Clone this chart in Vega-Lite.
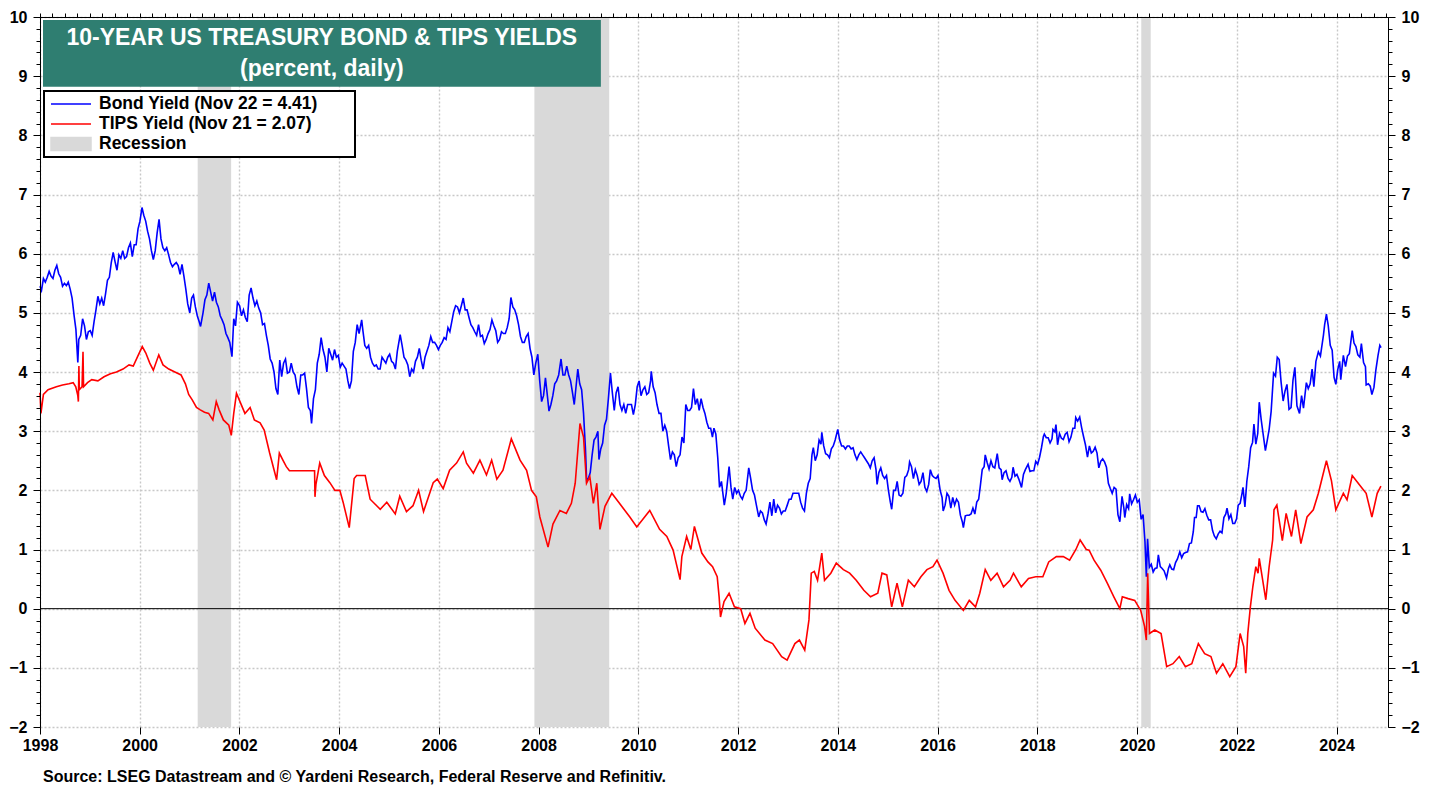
{
"$schema":"https://vega.github.io/schema/vega-lite/v6.json",
"width":1348,"height":710,
"autosize":{"type":"none"},
"padding":{"left":40,"top":17,"right":51,"bottom":62},
"background":"white",
"config":{"view":{"stroke":null},"font":"Liberation Sans"},
"title":{"text":"Source: LSEG Datastream and © Yardeni Research, Federal Reserve and Refinitiv.","orient":"bottom","anchor":"start","frame":"group","fontSize":16,"fontWeight":"bold","font":"Liberation Sans","color":"black","offset":16,"dx":3},
"resolve":{"axis":{"x":"independent","y":"independent"}},
"datasets":{
"rec":[{"start":"2001-03-01","end":"2001-11-01"},{"start":"2007-12-01","end":"2009-06-01"},{"start":"2020-02-01","end":"2020-04-10"}],
"yld":[
{"d":"1998-01-01","s":"B","v":5.45},{"d":"1998-01-12","s":"B","v":5.38},{"d":"1998-01-26","s":"B","v":5.58},{"d":"1998-02-09","s":"B","v":5.52},{"d":"1998-02-23","s":"B","v":5.6},{"d":"1998-03-09","s":"B","v":5.7},{"d":"1998-03-23","s":"B","v":5.62},{"d":"1998-04-06","s":"B","v":5.58},{"d":"1998-04-20","s":"B","v":5.72},{"d":"1998-05-04","s":"B","v":5.8},{"d":"1998-05-18","s":"B","v":5.66},{"d":"1998-06-01","s":"B","v":5.6},{"d":"1998-06-15","s":"B","v":5.45},{"d":"1998-06-29","s":"B","v":5.5},{"d":"1998-07-13","s":"B","v":5.46},{"d":"1998-07-27","s":"B","v":5.52},{"d":"1998-08-10","s":"B","v":5.4},{"d":"1998-08-24","s":"B","v":5.25},{"d":"1998-09-08","s":"B","v":4.95},{"d":"1998-09-21","s":"B","v":4.72},{"d":"1998-10-05","s":"B","v":4.16},{"d":"1998-10-12","s":"B","v":4.55},{"d":"1998-10-26","s":"B","v":4.62},{"d":"1998-11-09","s":"B","v":4.9},{"d":"1998-11-23","s":"B","v":4.78},{"d":"1998-12-07","s":"B","v":4.55},{"d":"1998-12-21","s":"B","v":4.68},
{"d":"1999-01-04","s":"B","v":4.7},{"d":"1999-01-18","s":"B","v":4.62},{"d":"1999-02-01","s":"B","v":4.85},{"d":"1999-02-15","s":"B","v":5.05},{"d":"1999-03-01","s":"B","v":5.28},{"d":"1999-03-15","s":"B","v":5.15},{"d":"1999-03-29","s":"B","v":5.25},{"d":"1999-04-12","s":"B","v":5.12},{"d":"1999-04-26","s":"B","v":5.32},{"d":"1999-05-10","s":"B","v":5.55},{"d":"1999-05-24","s":"B","v":5.6},{"d":"1999-06-07","s":"B","v":5.85},{"d":"1999-06-21","s":"B","v":6.02},{"d":"1999-07-06","s":"B","v":5.85},{"d":"1999-07-19","s":"B","v":5.72},{"d":"1999-08-02","s":"B","v":5.98},{"d":"1999-08-16","s":"B","v":5.92},{"d":"1999-08-30","s":"B","v":6.05},{"d":"1999-09-13","s":"B","v":5.92},{"d":"1999-09-27","s":"B","v":5.95},{"d":"1999-10-11","s":"B","v":6.1},{"d":"1999-10-25","s":"B","v":6.18},{"d":"1999-11-08","s":"B","v":5.95},{"d":"1999-11-22","s":"B","v":6.15},{"d":"1999-12-06","s":"B","v":6.15},{"d":"1999-12-20","s":"B","v":6.42},
{"d":"2000-01-03","s":"B","v":6.55},{"d":"2000-01-18","s":"B","v":6.78},{"d":"2000-01-31","s":"B","v":6.65},{"d":"2000-02-14","s":"B","v":6.55},{"d":"2000-02-28","s":"B","v":6.38},{"d":"2000-03-13","s":"B","v":6.25},{"d":"2000-03-27","s":"B","v":6.05},{"d":"2000-04-10","s":"B","v":5.9},{"d":"2000-04-24","s":"B","v":6.05},{"d":"2000-05-08","s":"B","v":6.35},{"d":"2000-05-22","s":"B","v":6.58},{"d":"2000-06-05","s":"B","v":6.25},{"d":"2000-06-19","s":"B","v":6.1},{"d":"2000-07-03","s":"B","v":6.05},{"d":"2000-07-17","s":"B","v":6.1},{"d":"2000-07-31","s":"B","v":5.98},{"d":"2000-08-14","s":"B","v":5.85},{"d":"2000-08-28","s":"B","v":5.78},{"d":"2000-09-11","s":"B","v":5.82},{"d":"2000-09-25","s":"B","v":5.85},{"d":"2000-10-09","s":"B","v":5.8},{"d":"2000-10-23","s":"B","v":5.65},{"d":"2000-11-06","s":"B","v":5.82},{"d":"2000-11-20","s":"B","v":5.62},{"d":"2000-12-04","s":"B","v":5.4},{"d":"2000-12-18","s":"B","v":5.15},
{"d":"2001-01-02","s":"B","v":5.0},{"d":"2001-01-16","s":"B","v":5.25},{"d":"2001-01-29","s":"B","v":5.3},{"d":"2001-02-12","s":"B","v":5.1},{"d":"2001-02-26","s":"B","v":4.95},{"d":"2001-03-12","s":"B","v":4.85},{"d":"2001-03-22","s":"B","v":4.77},{"d":"2001-04-09","s":"B","v":5.0},{"d":"2001-04-23","s":"B","v":5.22},{"d":"2001-05-07","s":"B","v":5.3},{"d":"2001-05-21","s":"B","v":5.5},{"d":"2001-06-04","s":"B","v":5.35},{"d":"2001-06-18","s":"B","v":5.2},{"d":"2001-07-02","s":"B","v":5.35},{"d":"2001-07-16","s":"B","v":5.18},{"d":"2001-07-30","s":"B","v":5.1},{"d":"2001-08-13","s":"B","v":4.95},{"d":"2001-08-27","s":"B","v":4.88},{"d":"2001-09-10","s":"B","v":4.8},{"d":"2001-09-24","s":"B","v":4.65},{"d":"2001-10-08","s":"B","v":4.58},{"d":"2001-10-22","s":"B","v":4.5},{"d":"2001-11-07","s":"B","v":4.26},{"d":"2001-11-20","s":"B","v":4.9},{"d":"2001-12-03","s":"B","v":4.78},{"d":"2001-12-17","s":"B","v":5.18},
{"d":"2002-01-02","s":"B","v":5.12},{"d":"2002-01-16","s":"B","v":4.95},{"d":"2002-01-30","s":"B","v":5.05},{"d":"2002-02-13","s":"B","v":4.92},{"d":"2002-02-27","s":"B","v":4.85},{"d":"2002-03-13","s":"B","v":5.3},{"d":"2002-03-27","s":"B","v":5.42},{"d":"2002-04-10","s":"B","v":5.25},{"d":"2002-04-24","s":"B","v":5.12},{"d":"2002-05-08","s":"B","v":5.2},{"d":"2002-05-22","s":"B","v":5.08},{"d":"2002-06-05","s":"B","v":5.0},{"d":"2002-06-19","s":"B","v":4.8},{"d":"2002-07-03","s":"B","v":4.82},{"d":"2002-07-17","s":"B","v":4.62},{"d":"2002-07-31","s":"B","v":4.45},{"d":"2002-08-14","s":"B","v":4.22},{"d":"2002-08-28","s":"B","v":4.15},{"d":"2002-09-11","s":"B","v":4.0},{"d":"2002-09-25","s":"B","v":3.72},{"d":"2002-10-09","s":"B","v":3.62},{"d":"2002-10-23","s":"B","v":4.2},{"d":"2002-11-06","s":"B","v":3.92},{"d":"2002-11-20","s":"B","v":4.15},{"d":"2002-12-04","s":"B","v":4.22},{"d":"2002-12-18","s":"B","v":3.98},
{"d":"2003-01-02","s":"B","v":4.0},{"d":"2003-01-15","s":"B","v":4.15},{"d":"2003-01-29","s":"B","v":4.0},{"d":"2003-02-12","s":"B","v":3.95},{"d":"2003-02-26","s":"B","v":3.75},{"d":"2003-03-12","s":"B","v":3.62},{"d":"2003-03-26","s":"B","v":3.95},{"d":"2003-04-09","s":"B","v":3.95},{"d":"2003-04-23","s":"B","v":3.98},{"d":"2003-05-07","s":"B","v":3.72},{"d":"2003-05-21","s":"B","v":3.4},{"d":"2003-06-04","s":"B","v":3.35},{"d":"2003-06-13","s":"B","v":3.13},{"d":"2003-06-27","s":"B","v":3.55},{"d":"2003-07-11","s":"B","v":3.7},{"d":"2003-07-25","s":"B","v":4.15},{"d":"2003-08-08","s":"B","v":4.3},{"d":"2003-08-22","s":"B","v":4.58},{"d":"2003-09-05","s":"B","v":4.38},{"d":"2003-09-19","s":"B","v":4.25},{"d":"2003-10-03","s":"B","v":4.0},{"d":"2003-10-17","s":"B","v":4.4},{"d":"2003-10-31","s":"B","v":4.3},{"d":"2003-11-14","s":"B","v":4.2},{"d":"2003-11-28","s":"B","v":4.38},{"d":"2003-12-12","s":"B","v":4.25},{"d":"2003-12-26","s":"B","v":4.28},
{"d":"2004-01-09","s":"B","v":4.08},{"d":"2004-01-23","s":"B","v":4.15},{"d":"2004-02-06","s":"B","v":4.1},{"d":"2004-02-20","s":"B","v":4.05},{"d":"2004-03-05","s":"B","v":3.85},{"d":"2004-03-17","s":"B","v":3.72},{"d":"2004-03-31","s":"B","v":3.85},{"d":"2004-04-14","s":"B","v":4.35},{"d":"2004-04-28","s":"B","v":4.5},{"d":"2004-05-12","s":"B","v":4.8},{"d":"2004-05-26","s":"B","v":4.65},{"d":"2004-06-14","s":"B","v":4.88},{"d":"2004-06-23","s":"B","v":4.7},{"d":"2004-07-07","s":"B","v":4.45},{"d":"2004-07-21","s":"B","v":4.4},{"d":"2004-08-04","s":"B","v":4.45},{"d":"2004-08-18","s":"B","v":4.25},{"d":"2004-09-01","s":"B","v":4.15},{"d":"2004-09-15","s":"B","v":4.1},{"d":"2004-09-29","s":"B","v":4.12},{"d":"2004-10-13","s":"B","v":4.05},{"d":"2004-10-27","s":"B","v":4.05},{"d":"2004-11-10","s":"B","v":4.25},{"d":"2004-11-24","s":"B","v":4.2},{"d":"2004-12-08","s":"B","v":4.15},{"d":"2004-12-22","s":"B","v":4.25},
{"d":"2005-01-05","s":"B","v":4.3},{"d":"2005-01-19","s":"B","v":4.18},{"d":"2005-02-02","s":"B","v":4.15},{"d":"2005-02-16","s":"B","v":4.05},{"d":"2005-03-02","s":"B","v":4.35},{"d":"2005-03-23","s":"B","v":4.63},{"d":"2005-04-06","s":"B","v":4.45},{"d":"2005-04-20","s":"B","v":4.25},{"d":"2005-05-04","s":"B","v":4.2},{"d":"2005-05-18","s":"B","v":4.12},{"d":"2005-06-01","s":"B","v":3.92},{"d":"2005-06-15","s":"B","v":4.05},{"d":"2005-06-29","s":"B","v":4.0},{"d":"2005-07-13","s":"B","v":4.18},{"d":"2005-07-27","s":"B","v":4.25},{"d":"2005-08-10","s":"B","v":4.4},{"d":"2005-08-24","s":"B","v":4.2},{"d":"2005-09-07","s":"B","v":4.05},{"d":"2005-09-21","s":"B","v":4.25},{"d":"2005-10-05","s":"B","v":4.35},{"d":"2005-10-19","s":"B","v":4.45},{"d":"2005-11-02","s":"B","v":4.6},{"d":"2005-11-16","s":"B","v":4.5},{"d":"2005-11-30","s":"B","v":4.5},{"d":"2005-12-14","s":"B","v":4.45},{"d":"2005-12-28","s":"B","v":4.38},
{"d":"2006-01-11","s":"B","v":4.45},{"d":"2006-01-25","s":"B","v":4.5},{"d":"2006-02-08","s":"B","v":4.58},{"d":"2006-02-22","s":"B","v":4.55},{"d":"2006-03-08","s":"B","v":4.75},{"d":"2006-03-22","s":"B","v":4.68},{"d":"2006-04-05","s":"B","v":4.85},{"d":"2006-04-19","s":"B","v":5.02},{"d":"2006-05-03","s":"B","v":5.12},{"d":"2006-05-17","s":"B","v":5.1},{"d":"2006-05-31","s":"B","v":5.0},{"d":"2006-06-14","s":"B","v":5.12},{"d":"2006-06-28","s":"B","v":5.25},{"d":"2006-07-12","s":"B","v":5.05},{"d":"2006-07-26","s":"B","v":5.05},{"d":"2006-08-09","s":"B","v":4.92},{"d":"2006-08-23","s":"B","v":4.8},{"d":"2006-09-06","s":"B","v":4.75},{"d":"2006-09-20","s":"B","v":4.68},{"d":"2006-10-04","s":"B","v":4.62},{"d":"2006-10-18","s":"B","v":4.8},{"d":"2006-11-01","s":"B","v":4.6},{"d":"2006-11-15","s":"B","v":4.62},{"d":"2006-11-29","s":"B","v":4.48},{"d":"2006-12-13","s":"B","v":4.55},{"d":"2006-12-27","s":"B","v":4.65},
{"d":"2007-01-10","s":"B","v":4.72},{"d":"2007-01-24","s":"B","v":4.88},{"d":"2007-02-07","s":"B","v":4.78},{"d":"2007-02-21","s":"B","v":4.7},{"d":"2007-03-07","s":"B","v":4.5},{"d":"2007-03-21","s":"B","v":4.55},{"d":"2007-04-04","s":"B","v":4.68},{"d":"2007-04-18","s":"B","v":4.65},{"d":"2007-05-02","s":"B","v":4.65},{"d":"2007-05-16","s":"B","v":4.75},{"d":"2007-05-30","s":"B","v":4.9},{"d":"2007-06-12","s":"B","v":5.26},{"d":"2007-06-26","s":"B","v":5.1},{"d":"2007-07-10","s":"B","v":5.05},{"d":"2007-07-24","s":"B","v":4.95},{"d":"2007-08-07","s":"B","v":4.8},{"d":"2007-08-21","s":"B","v":4.6},{"d":"2007-09-04","s":"B","v":4.5},{"d":"2007-09-18","s":"B","v":4.5},{"d":"2007-10-02","s":"B","v":4.6},{"d":"2007-10-16","s":"B","v":4.65},{"d":"2007-10-30","s":"B","v":4.4},{"d":"2007-11-13","s":"B","v":4.25},{"d":"2007-11-27","s":"B","v":3.95},{"d":"2007-12-11","s":"B","v":4.15},{"d":"2007-12-26","s":"B","v":4.3},
{"d":"2008-01-09","s":"B","v":3.85},{"d":"2008-01-23","s":"B","v":3.5},{"d":"2008-02-06","s":"B","v":3.6},{"d":"2008-02-20","s":"B","v":3.9},{"d":"2008-03-05","s":"B","v":3.6},{"d":"2008-03-17","s":"B","v":3.34},{"d":"2008-03-31","s":"B","v":3.45},{"d":"2008-04-14","s":"B","v":3.6},{"d":"2008-04-28","s":"B","v":3.8},{"d":"2008-05-12","s":"B","v":3.85},{"d":"2008-05-27","s":"B","v":3.95},{"d":"2008-06-13","s":"B","v":4.22},{"d":"2008-06-27","s":"B","v":3.95},{"d":"2008-07-11","s":"B","v":3.95},{"d":"2008-07-25","s":"B","v":4.1},{"d":"2008-08-08","s":"B","v":3.95},{"d":"2008-08-22","s":"B","v":3.85},{"d":"2008-09-05","s":"B","v":3.65},{"d":"2008-09-18","s":"B","v":3.45},{"d":"2008-10-01","s":"B","v":3.75},{"d":"2008-10-14","s":"B","v":4.05},{"d":"2008-10-28","s":"B","v":3.8},{"d":"2008-11-11","s":"B","v":3.7},{"d":"2008-11-25","s":"B","v":3.3},{"d":"2008-12-09","s":"B","v":2.7},{"d":"2008-12-18","s":"B","v":2.15},{"d":"2008-12-30","s":"B","v":2.2},
{"d":"2009-01-13","s":"B","v":2.3},{"d":"2009-01-27","s":"B","v":2.6},{"d":"2009-02-10","s":"B","v":2.85},{"d":"2009-02-24","s":"B","v":2.9},{"d":"2009-03-10","s":"B","v":3.0},{"d":"2009-03-18","s":"B","v":2.52},{"d":"2009-03-31","s":"B","v":2.7},{"d":"2009-04-14","s":"B","v":2.8},{"d":"2009-04-28","s":"B","v":3.1},{"d":"2009-05-12","s":"B","v":3.2},{"d":"2009-05-26","s":"B","v":3.55},{"d":"2009-06-10","s":"B","v":3.98},{"d":"2009-06-24","s":"B","v":3.65},{"d":"2009-07-08","s":"B","v":3.35},{"d":"2009-07-22","s":"B","v":3.65},{"d":"2009-08-05","s":"B","v":3.75},{"d":"2009-08-19","s":"B","v":3.45},{"d":"2009-09-02","s":"B","v":3.35},{"d":"2009-09-16","s":"B","v":3.45},{"d":"2009-09-30","s":"B","v":3.3},{"d":"2009-10-14","s":"B","v":3.45},{"d":"2009-10-28","s":"B","v":3.45},{"d":"2009-11-11","s":"B","v":3.45},{"d":"2009-11-25","s":"B","v":3.28},{"d":"2009-12-09","s":"B","v":3.45},{"d":"2009-12-23","s":"B","v":3.75},
{"d":"2010-01-06","s":"B","v":3.85},{"d":"2010-01-20","s":"B","v":3.6},{"d":"2010-02-03","s":"B","v":3.7},{"d":"2010-02-17","s":"B","v":3.75},{"d":"2010-03-03","s":"B","v":3.62},{"d":"2010-03-17","s":"B","v":3.65},{"d":"2010-03-31","s":"B","v":3.85},{"d":"2010-04-05","s":"B","v":4.01},{"d":"2010-04-19","s":"B","v":3.75},{"d":"2010-05-03","s":"B","v":3.65},{"d":"2010-05-17","s":"B","v":3.45},{"d":"2010-06-01","s":"B","v":3.3},{"d":"2010-06-15","s":"B","v":3.3},{"d":"2010-06-29","s":"B","v":3.0},{"d":"2010-07-13","s":"B","v":3.1},{"d":"2010-07-27","s":"B","v":3.0},{"d":"2010-08-10","s":"B","v":2.75},{"d":"2010-08-24","s":"B","v":2.52},{"d":"2010-09-07","s":"B","v":2.65},{"d":"2010-09-21","s":"B","v":2.6},{"d":"2010-10-05","s":"B","v":2.4},{"d":"2010-10-19","s":"B","v":2.55},{"d":"2010-11-02","s":"B","v":2.6},{"d":"2010-11-16","s":"B","v":2.9},{"d":"2010-11-30","s":"B","v":2.8},{"d":"2010-12-14","s":"B","v":3.45},{"d":"2010-12-28","s":"B","v":3.35},
{"d":"2011-01-11","s":"B","v":3.35},{"d":"2011-01-25","s":"B","v":3.4},{"d":"2011-02-08","s":"B","v":3.72},{"d":"2011-02-22","s":"B","v":3.45},{"d":"2011-03-08","s":"B","v":3.55},{"d":"2011-03-22","s":"B","v":3.35},{"d":"2011-04-05","s":"B","v":3.55},{"d":"2011-04-19","s":"B","v":3.4},{"d":"2011-05-03","s":"B","v":3.3},{"d":"2011-05-17","s":"B","v":3.15},{"d":"2011-05-31","s":"B","v":3.05},{"d":"2011-06-14","s":"B","v":3.05},{"d":"2011-06-27","s":"B","v":2.9},{"d":"2011-07-08","s":"B","v":3.05},{"d":"2011-07-22","s":"B","v":2.95},{"d":"2011-08-05","s":"B","v":2.55},{"d":"2011-08-18","s":"B","v":2.05},{"d":"2011-09-01","s":"B","v":2.15},{"d":"2011-09-22","s":"B","v":1.75},{"d":"2011-10-06","s":"B","v":1.95},{"d":"2011-10-27","s":"B","v":2.4},{"d":"2011-11-10","s":"B","v":2.05},{"d":"2011-11-23","s":"B","v":1.85},{"d":"2011-12-07","s":"B","v":2.05},{"d":"2011-12-21","s":"B","v":1.95},
{"d":"2012-01-04","s":"B","v":2.0},{"d":"2012-01-18","s":"B","v":1.9},{"d":"2012-02-01","s":"B","v":1.85},{"d":"2012-02-15","s":"B","v":1.95},{"d":"2012-02-29","s":"B","v":2.0},{"d":"2012-03-19","s":"B","v":2.38},{"d":"2012-04-02","s":"B","v":2.2},{"d":"2012-04-16","s":"B","v":2.0},{"d":"2012-04-30","s":"B","v":1.92},{"d":"2012-05-14","s":"B","v":1.75},{"d":"2012-05-31","s":"B","v":1.55},{"d":"2012-06-13","s":"B","v":1.65},{"d":"2012-06-27","s":"B","v":1.62},{"d":"2012-07-11","s":"B","v":1.5},{"d":"2012-07-24","s":"B","v":1.43},{"d":"2012-08-07","s":"B","v":1.6},{"d":"2012-08-21","s":"B","v":1.8},{"d":"2012-09-04","s":"B","v":1.57},{"d":"2012-09-18","s":"B","v":1.85},{"d":"2012-10-02","s":"B","v":1.62},{"d":"2012-10-16","s":"B","v":1.75},{"d":"2012-10-30","s":"B","v":1.7},{"d":"2012-11-13","s":"B","v":1.6},{"d":"2012-11-27","s":"B","v":1.65},{"d":"2012-12-11","s":"B","v":1.65},{"d":"2012-12-26","s":"B","v":1.75},
{"d":"2013-01-09","s":"B","v":1.85},{"d":"2013-01-23","s":"B","v":1.85},{"d":"2013-02-06","s":"B","v":1.95},{"d":"2013-02-20","s":"B","v":1.95},{"d":"2013-03-06","s":"B","v":1.95},{"d":"2013-03-20","s":"B","v":1.95},{"d":"2013-04-03","s":"B","v":1.8},{"d":"2013-04-17","s":"B","v":1.7},{"d":"2013-05-01","s":"B","v":1.65},{"d":"2013-05-15","s":"B","v":1.95},{"d":"2013-05-29","s":"B","v":2.12},{"d":"2013-06-12","s":"B","v":2.2},{"d":"2013-06-25","s":"B","v":2.6},{"d":"2013-07-05","s":"B","v":2.72},{"d":"2013-07-19","s":"B","v":2.5},{"d":"2013-08-02","s":"B","v":2.6},{"d":"2013-08-16","s":"B","v":2.85},{"d":"2013-08-30","s":"B","v":2.78},{"d":"2013-09-05","s":"B","v":2.98},{"d":"2013-09-19","s":"B","v":2.75},{"d":"2013-10-03","s":"B","v":2.62},{"d":"2013-10-17","s":"B","v":2.6},{"d":"2013-10-31","s":"B","v":2.55},{"d":"2013-11-14","s":"B","v":2.7},{"d":"2013-11-28","s":"B","v":2.75},{"d":"2013-12-12","s":"B","v":2.85},{"d":"2013-12-31","s":"B","v":3.03},
{"d":"2014-01-14","s":"B","v":2.85},{"d":"2014-01-28","s":"B","v":2.75},{"d":"2014-02-11","s":"B","v":2.75},{"d":"2014-02-25","s":"B","v":2.7},{"d":"2014-03-11","s":"B","v":2.75},{"d":"2014-03-25","s":"B","v":2.75},{"d":"2014-04-08","s":"B","v":2.7},{"d":"2014-04-22","s":"B","v":2.72},{"d":"2014-05-06","s":"B","v":2.6},{"d":"2014-05-20","s":"B","v":2.52},{"d":"2014-06-03","s":"B","v":2.6},{"d":"2014-06-17","s":"B","v":2.65},{"d":"2014-07-01","s":"B","v":2.6},{"d":"2014-07-15","s":"B","v":2.55},{"d":"2014-07-29","s":"B","v":2.5},{"d":"2014-08-12","s":"B","v":2.45},{"d":"2014-08-26","s":"B","v":2.38},{"d":"2014-09-09","s":"B","v":2.5},{"d":"2014-09-23","s":"B","v":2.55},{"d":"2014-10-07","s":"B","v":2.35},{"d":"2014-10-15","s":"B","v":2.1},{"d":"2014-10-28","s":"B","v":2.3},{"d":"2014-11-11","s":"B","v":2.38},{"d":"2014-11-25","s":"B","v":2.25},{"d":"2014-12-09","s":"B","v":2.2},{"d":"2014-12-23","s":"B","v":2.25},
{"d":"2015-01-06","s":"B","v":2.0},{"d":"2015-01-20","s":"B","v":1.8},{"d":"2015-01-30","s":"B","v":1.68},{"d":"2015-02-13","s":"B","v":2.0},{"d":"2015-02-27","s":"B","v":2.0},{"d":"2015-03-11","s":"B","v":2.15},{"d":"2015-03-25","s":"B","v":1.92},{"d":"2015-04-08","s":"B","v":1.9},{"d":"2015-04-22","s":"B","v":1.95},{"d":"2015-05-06","s":"B","v":2.22},{"d":"2015-05-20","s":"B","v":2.25},{"d":"2015-06-03","s":"B","v":2.35},{"d":"2015-06-10","s":"B","v":2.48},{"d":"2015-06-24","s":"B","v":2.4},{"d":"2015-07-08","s":"B","v":2.2},{"d":"2015-07-22","s":"B","v":2.35},{"d":"2015-08-05","s":"B","v":2.25},{"d":"2015-08-19","s":"B","v":2.1},{"d":"2015-09-02","s":"B","v":2.15},{"d":"2015-09-16","s":"B","v":2.3},{"d":"2015-09-30","s":"B","v":2.05},{"d":"2015-10-14","s":"B","v":1.98},{"d":"2015-10-28","s":"B","v":2.1},{"d":"2015-11-09","s":"B","v":2.35},{"d":"2015-11-23","s":"B","v":2.25},{"d":"2015-12-07","s":"B","v":2.22},{"d":"2015-12-21","s":"B","v":2.2},
{"d":"2016-01-04","s":"B","v":2.25},{"d":"2016-01-20","s":"B","v":2.0},{"d":"2016-02-03","s":"B","v":1.88},{"d":"2016-02-11","s":"B","v":1.65},{"d":"2016-02-25","s":"B","v":1.75},{"d":"2016-03-10","s":"B","v":1.95},{"d":"2016-03-24","s":"B","v":1.9},{"d":"2016-04-07","s":"B","v":1.7},{"d":"2016-04-21","s":"B","v":1.88},{"d":"2016-05-05","s":"B","v":1.75},{"d":"2016-05-19","s":"B","v":1.85},{"d":"2016-06-02","s":"B","v":1.8},{"d":"2016-06-16","s":"B","v":1.58},{"d":"2016-06-30","s":"B","v":1.47},{"d":"2016-07-08","s":"B","v":1.37},{"d":"2016-07-22","s":"B","v":1.57},{"d":"2016-08-05","s":"B","v":1.58},{"d":"2016-08-19","s":"B","v":1.58},{"d":"2016-09-02","s":"B","v":1.6},{"d":"2016-09-16","s":"B","v":1.7},{"d":"2016-09-30","s":"B","v":1.6},{"d":"2016-10-14","s":"B","v":1.8},{"d":"2016-10-28","s":"B","v":1.85},{"d":"2016-11-09","s":"B","v":2.07},{"d":"2016-11-23","s":"B","v":2.35},{"d":"2016-12-07","s":"B","v":2.4},{"d":"2016-12-15","s":"B","v":2.6},{"d":"2016-12-29","s":"B","v":2.47},
{"d":"2017-01-12","s":"B","v":2.36},{"d":"2017-01-26","s":"B","v":2.5},{"d":"2017-02-09","s":"B","v":2.4},{"d":"2017-02-23","s":"B","v":2.38},{"d":"2017-03-13","s":"B","v":2.62},{"d":"2017-03-27","s":"B","v":2.38},{"d":"2017-04-10","s":"B","v":2.35},{"d":"2017-04-18","s":"B","v":2.18},{"d":"2017-05-02","s":"B","v":2.3},{"d":"2017-05-16","s":"B","v":2.33},{"d":"2017-05-31","s":"B","v":2.2},{"d":"2017-06-14","s":"B","v":2.15},{"d":"2017-06-28","s":"B","v":2.22},{"d":"2017-07-07","s":"B","v":2.39},{"d":"2017-07-21","s":"B","v":2.24},{"d":"2017-08-04","s":"B","v":2.27},{"d":"2017-08-18","s":"B","v":2.19},{"d":"2017-09-07","s":"B","v":2.05},{"d":"2017-09-21","s":"B","v":2.27},{"d":"2017-10-05","s":"B","v":2.35},{"d":"2017-10-25","s":"B","v":2.44},{"d":"2017-11-08","s":"B","v":2.32},{"d":"2017-11-22","s":"B","v":2.33},{"d":"2017-12-06","s":"B","v":2.33},{"d":"2017-12-20","s":"B","v":2.49},
{"d":"2018-01-03","s":"B","v":2.44},{"d":"2018-01-17","s":"B","v":2.56},{"d":"2018-01-31","s":"B","v":2.72},{"d":"2018-02-14","s":"B","v":2.91},{"d":"2018-02-21","s":"B","v":2.95},{"d":"2018-03-07","s":"B","v":2.89},{"d":"2018-03-21","s":"B","v":2.89},{"d":"2018-04-04","s":"B","v":2.8},{"d":"2018-04-18","s":"B","v":2.87},{"d":"2018-04-25","s":"B","v":3.03},{"d":"2018-05-09","s":"B","v":2.99},{"d":"2018-05-17","s":"B","v":3.11},{"d":"2018-05-29","s":"B","v":2.77},{"d":"2018-06-12","s":"B","v":2.96},{"d":"2018-06-26","s":"B","v":2.88},{"d":"2018-07-10","s":"B","v":2.86},{"d":"2018-07-24","s":"B","v":2.95},{"d":"2018-08-07","s":"B","v":2.98},{"d":"2018-08-21","s":"B","v":2.82},{"d":"2018-09-04","s":"B","v":2.9},{"d":"2018-09-18","s":"B","v":3.05},{"d":"2018-10-02","s":"B","v":3.05},{"d":"2018-10-09","s":"B","v":3.23},{"d":"2018-10-23","s":"B","v":3.17},{"d":"2018-11-07","s":"B","v":3.24},{"d":"2018-11-21","s":"B","v":3.06},{"d":"2018-12-05","s":"B","v":2.91},{"d":"2018-12-19","s":"B","v":2.77},
{"d":"2019-01-03","s":"B","v":2.56},{"d":"2019-01-17","s":"B","v":2.75},{"d":"2019-01-31","s":"B","v":2.63},{"d":"2019-02-14","s":"B","v":2.66},{"d":"2019-02-28","s":"B","v":2.73},{"d":"2019-03-14","s":"B","v":2.63},{"d":"2019-03-27","s":"B","v":2.38},{"d":"2019-04-10","s":"B","v":2.49},{"d":"2019-04-24","s":"B","v":2.53},{"d":"2019-05-08","s":"B","v":2.48},{"d":"2019-05-22","s":"B","v":2.39},{"d":"2019-06-05","s":"B","v":2.12},{"d":"2019-06-19","s":"B","v":2.03},{"d":"2019-07-03","s":"B","v":1.95},{"d":"2019-07-17","s":"B","v":2.05},{"d":"2019-07-31","s":"B","v":2.02},{"d":"2019-08-14","s":"B","v":1.59},{"d":"2019-08-28","s":"B","v":1.47},{"d":"2019-09-13","s":"B","v":1.9},{"d":"2019-09-27","s":"B","v":1.69},{"d":"2019-10-03","s":"B","v":1.54},{"d":"2019-10-17","s":"B","v":1.76},{"d":"2019-10-31","s":"B","v":1.69},{"d":"2019-11-08","s":"B","v":1.94},{"d":"2019-11-22","s":"B","v":1.77},{"d":"2019-12-06","s":"B","v":1.84},{"d":"2019-12-20","s":"B","v":1.92},
{"d":"2020-01-03","s":"B","v":1.8},{"d":"2020-01-17","s":"B","v":1.84},{"d":"2020-01-31","s":"B","v":1.51},{"d":"2020-02-14","s":"B","v":1.59},{"d":"2020-02-28","s":"B","v":1.13},{"d":"2020-03-09","s":"B","v":0.54},{"d":"2020-03-18","s":"B","v":1.18},{"d":"2020-03-31","s":"B","v":0.7},{"d":"2020-04-14","s":"B","v":0.75},{"d":"2020-04-28","s":"B","v":0.62},{"d":"2020-05-12","s":"B","v":0.68},{"d":"2020-05-26","s":"B","v":0.69},{"d":"2020-06-05","s":"B","v":0.91},{"d":"2020-06-19","s":"B","v":0.71},{"d":"2020-07-03","s":"B","v":0.68},{"d":"2020-07-17","s":"B","v":0.64},{"d":"2020-08-04","s":"B","v":0.52},{"d":"2020-08-18","s":"B","v":0.68},{"d":"2020-08-28","s":"B","v":0.74},{"d":"2020-09-11","s":"B","v":0.67},{"d":"2020-09-25","s":"B","v":0.66},{"d":"2020-10-09","s":"B","v":0.78},{"d":"2020-10-23","s":"B","v":0.84},{"d":"2020-11-09","s":"B","v":0.96},{"d":"2020-11-23","s":"B","v":0.86},{"d":"2020-12-07","s":"B","v":0.93},{"d":"2020-12-21","s":"B","v":0.95},
{"d":"2021-01-05","s":"B","v":0.96},{"d":"2021-01-19","s":"B","v":1.1},{"d":"2021-02-02","s":"B","v":1.11},{"d":"2021-02-16","s":"B","v":1.3},{"d":"2021-02-25","s":"B","v":1.54},{"d":"2021-03-09","s":"B","v":1.54},{"d":"2021-03-19","s":"B","v":1.74},{"d":"2021-03-31","s":"B","v":1.74},{"d":"2021-04-14","s":"B","v":1.64},{"d":"2021-04-28","s":"B","v":1.63},{"d":"2021-05-12","s":"B","v":1.69},{"d":"2021-05-26","s":"B","v":1.58},{"d":"2021-06-09","s":"B","v":1.5},{"d":"2021-06-23","s":"B","v":1.5},{"d":"2021-07-07","s":"B","v":1.32},{"d":"2021-07-20","s":"B","v":1.23},{"d":"2021-08-03","s":"B","v":1.18},{"d":"2021-08-17","s":"B","v":1.26},{"d":"2021-08-31","s":"B","v":1.31},{"d":"2021-09-14","s":"B","v":1.28},{"d":"2021-09-28","s":"B","v":1.54},{"d":"2021-10-12","s":"B","v":1.6},{"d":"2021-10-21","s":"B","v":1.7},{"d":"2021-11-04","s":"B","v":1.52},{"d":"2021-11-18","s":"B","v":1.59},{"d":"2021-12-02","s":"B","v":1.44},{"d":"2021-12-16","s":"B","v":1.44},{"d":"2021-12-30","s":"B","v":1.52},
{"d":"2022-01-11","s":"B","v":1.75},{"d":"2022-01-25","s":"B","v":1.78},{"d":"2022-02-08","s":"B","v":1.95},{"d":"2022-02-15","s":"B","v":2.05},{"d":"2022-03-01","s":"B","v":1.72},{"d":"2022-03-15","s":"B","v":2.15},{"d":"2022-03-29","s":"B","v":2.4},{"d":"2022-04-12","s":"B","v":2.72},{"d":"2022-04-26","s":"B","v":2.81},{"d":"2022-05-06","s":"B","v":3.12},{"d":"2022-05-20","s":"B","v":2.78},{"d":"2022-06-03","s":"B","v":2.96},{"d":"2022-06-14","s":"B","v":3.49},{"d":"2022-06-28","s":"B","v":3.2},{"d":"2022-07-12","s":"B","v":2.96},{"d":"2022-07-29","s":"B","v":2.67},{"d":"2022-08-12","s":"B","v":2.85},{"d":"2022-08-26","s":"B","v":3.04},{"d":"2022-09-09","s":"B","v":3.33},{"d":"2022-09-27","s":"B","v":3.98},{"d":"2022-10-11","s":"B","v":3.93},{"d":"2022-10-24","s":"B","v":4.25},{"d":"2022-11-07","s":"B","v":4.21},{"d":"2022-11-21","s":"B","v":3.83},{"d":"2022-12-06","s":"B","v":3.51},{"d":"2022-12-20","s":"B","v":3.68},
{"d":"2023-01-03","s":"B","v":3.79},{"d":"2023-01-18","s":"B","v":3.37},{"d":"2023-02-02","s":"B","v":3.4},{"d":"2023-02-16","s":"B","v":3.86},{"d":"2023-03-02","s":"B","v":4.08},{"d":"2023-03-17","s":"B","v":3.43},{"d":"2023-04-05","s":"B","v":3.3},{"d":"2023-04-20","s":"B","v":3.6},{"d":"2023-05-04","s":"B","v":3.39},{"d":"2023-05-25","s":"B","v":3.82},{"d":"2023-06-08","s":"B","v":3.72},{"d":"2023-06-22","s":"B","v":3.8},{"d":"2023-07-06","s":"B","v":4.05},{"d":"2023-07-19","s":"B","v":3.75},{"d":"2023-08-03","s":"B","v":4.18},{"d":"2023-08-21","s":"B","v":4.34},{"d":"2023-09-05","s":"B","v":4.27},{"d":"2023-09-27","s":"B","v":4.62},{"d":"2023-10-06","s":"B","v":4.8},{"d":"2023-10-19","s":"B","v":4.98},{"d":"2023-11-01","s":"B","v":4.79},{"d":"2023-11-16","s":"B","v":4.45},{"d":"2023-11-30","s":"B","v":4.37},{"d":"2023-12-14","s":"B","v":3.91},{"d":"2023-12-27","s":"B","v":3.79},
{"d":"2024-01-10","s":"B","v":4.04},{"d":"2024-01-24","s":"B","v":4.18},{"d":"2024-02-01","s":"B","v":3.87},{"d":"2024-02-20","s":"B","v":4.28},{"d":"2024-03-07","s":"B","v":4.09},{"d":"2024-03-21","s":"B","v":4.27},{"d":"2024-04-04","s":"B","v":4.31},{"d":"2024-04-25","s":"B","v":4.7},{"d":"2024-05-08","s":"B","v":4.49},{"d":"2024-05-22","s":"B","v":4.43},{"d":"2024-06-05","s":"B","v":4.29},{"d":"2024-06-20","s":"B","v":4.25},{"d":"2024-07-01","s":"B","v":4.48},{"d":"2024-07-17","s":"B","v":4.16},{"d":"2024-07-31","s":"B","v":4.09},{"d":"2024-08-05","s":"B","v":3.78},{"d":"2024-08-21","s":"B","v":3.8},{"d":"2024-09-04","s":"B","v":3.76},{"d":"2024-09-16","s":"B","v":3.62},{"d":"2024-10-01","s":"B","v":3.74},{"d":"2024-10-15","s":"B","v":4.03},{"d":"2024-10-31","s":"B","v":4.28},{"d":"2024-11-13","s":"B","v":4.45},{"d":"2024-11-22","s":"B","v":4.41},
{"d":"1998-01-01","s":"T","v":3.65},{"d":"1998-01-08","s":"T","v":3.3},{"d":"1998-01-26","s":"T","v":3.62},{"d":"1998-03-01","s":"T","v":3.7},{"d":"1998-05-01","s":"T","v":3.75},{"d":"1998-06-15","s":"T","v":3.78},{"d":"1998-08-01","s":"T","v":3.8},{"d":"1998-09-01","s":"T","v":3.82},{"d":"1998-09-20","s":"T","v":3.75},{"d":"1998-10-05","s":"T","v":3.6},{"d":"1998-10-09","s":"T","v":3.5},{"d":"1998-10-13","s":"T","v":4.1},{"d":"1998-10-16","s":"T","v":3.7},{"d":"1998-11-05","s":"T","v":3.75},{"d":"1998-11-12","s":"T","v":4.34},{"d":"1998-11-16","s":"T","v":3.75},{"d":"1998-12-15","s":"T","v":3.82},
{"d":"1999-01-15","s":"T","v":3.87},{"d":"1999-03-01","s":"T","v":3.85},{"d":"1999-04-15","s":"T","v":3.92},{"d":"1999-06-01","s":"T","v":3.97},{"d":"1999-07-15","s":"T","v":4.0},{"d":"1999-09-01","s":"T","v":4.05},{"d":"1999-10-15","s":"T","v":4.12},{"d":"1999-11-15","s":"T","v":4.1},{"d":"1999-12-15","s":"T","v":4.25},
{"d":"2000-01-20","s":"T","v":4.43},{"d":"2000-02-15","s":"T","v":4.32},{"d":"2000-03-15","s":"T","v":4.15},{"d":"2000-04-10","s":"T","v":4.03},{"d":"2000-05-20","s":"T","v":4.29},{"d":"2000-06-20","s":"T","v":4.12},{"d":"2000-08-01","s":"T","v":4.05},{"d":"2000-09-15","s":"T","v":4.0},{"d":"2000-10-30","s":"T","v":3.95},{"d":"2000-12-01","s":"T","v":3.8},{"d":"2000-12-25","s":"T","v":3.62},
{"d":"2001-01-20","s":"T","v":3.53},{"d":"2001-02-20","s":"T","v":3.4},{"d":"2001-03-20","s":"T","v":3.36},{"d":"2001-04-20","s":"T","v":3.32},{"d":"2001-05-20","s":"T","v":3.3},{"d":"2001-06-20","s":"T","v":3.19},{"d":"2001-07-15","s":"T","v":3.5},{"d":"2001-08-05","s":"T","v":3.36},{"d":"2001-09-05","s":"T","v":3.19},{"d":"2001-10-15","s":"T","v":3.1},{"d":"2001-11-02","s":"T","v":2.93},{"d":"2001-11-20","s":"T","v":3.3},{"d":"2001-12-10","s":"T","v":3.64},
{"d":"2002-01-10","s":"T","v":3.47},{"d":"2002-02-10","s":"T","v":3.3},{"d":"2002-03-20","s":"T","v":3.4},{"d":"2002-04-20","s":"T","v":3.19},{"d":"2002-06-01","s":"T","v":3.14},{"d":"2002-07-01","s":"T","v":3.02},{"d":"2002-08-10","s":"T","v":2.63},{"d":"2002-09-30","s":"T","v":2.18},{"d":"2002-10-20","s":"T","v":2.63},{"d":"2002-11-15","s":"T","v":2.51},{"d":"2002-12-10","s":"T","v":2.4},
{"d":"2003-01-02","s":"T","v":2.33},{"d":"2003-07-05","s":"T","v":2.33},{"d":"2003-07-08","s":"T","v":1.89},{"d":"2003-07-15","s":"T","v":2.1},{"d":"2003-08-12","s":"T","v":2.46},{"d":"2003-09-15","s":"T","v":2.25},{"d":"2003-10-25","s":"T","v":2.13},{"d":"2003-12-01","s":"T","v":2.0},
{"d":"2004-01-06","s":"T","v":2.0},{"d":"2004-01-30","s":"T","v":1.8},{"d":"2004-03-15","s":"T","v":1.37},{"d":"2004-04-20","s":"T","v":2.2},{"d":"2004-05-08","s":"T","v":2.25},{"d":"2004-07-10","s":"T","v":2.25},{"d":"2004-08-15","s":"T","v":1.85},{"d":"2004-10-28","s":"T","v":1.68},{"d":"2004-12-15","s":"T","v":1.8},
{"d":"2005-02-15","s":"T","v":1.6},{"d":"2005-03-20","s":"T","v":1.9},{"d":"2005-05-08","s":"T","v":1.64},{"d":"2005-06-25","s":"T","v":1.74},{"d":"2005-08-05","s":"T","v":2.0},{"d":"2005-09-10","s":"T","v":1.64},{"d":"2005-11-20","s":"T","v":2.13},{"d":"2005-12-20","s":"T","v":2.19},
{"d":"2006-02-01","s":"T","v":2.03},{"d":"2006-03-20","s":"T","v":2.34},{"d":"2006-05-10","s":"T","v":2.46},{"d":"2006-06-28","s":"T","v":2.65},{"d":"2006-07-22","s":"T","v":2.46},{"d":"2006-09-10","s":"T","v":2.29},{"d":"2006-10-28","s":"T","v":2.51},{"d":"2006-12-15","s":"T","v":2.26},
{"d":"2007-01-22","s":"T","v":2.51},{"d":"2007-03-01","s":"T","v":2.19},{"d":"2007-04-15","s":"T","v":2.34},{"d":"2007-06-15","s":"T","v":2.87},{"d":"2007-08-18","s":"T","v":2.51},{"d":"2007-10-05","s":"T","v":2.34},{"d":"2007-11-10","s":"T","v":2.0},{"d":"2007-12-15","s":"T","v":1.89},
{"d":"2008-01-10","s":"T","v":1.55},{"d":"2008-03-10","s":"T","v":1.04},{"d":"2008-04-15","s":"T","v":1.43},{"d":"2008-06-05","s":"T","v":1.66},{"d":"2008-07-22","s":"T","v":1.61},{"d":"2008-08-28","s":"T","v":1.78},{"d":"2008-09-25","s":"T","v":2.12},{"d":"2008-10-30","s":"T","v":3.13},{"d":"2008-11-25","s":"T","v":2.9},{"d":"2008-12-17","s":"T","v":2.12},
{"d":"2009-01-10","s":"T","v":2.23},{"d":"2009-02-05","s":"T","v":1.78},{"d":"2009-03-02","s":"T","v":2.12},{"d":"2009-03-25","s":"T","v":1.34},{"d":"2009-05-01","s":"T","v":1.73},{"d":"2009-06-20","s":"T","v":1.95},{"d":"2009-08-15","s":"T","v":1.78},{"d":"2009-10-30","s":"T","v":1.55},{"d":"2009-12-20","s":"T","v":1.38},
{"d":"2010-03-25","s":"T","v":1.66},{"d":"2010-06-05","s":"T","v":1.34},{"d":"2010-07-28","s":"T","v":1.22},{"d":"2010-09-12","s":"T","v":0.99},{"d":"2010-11-02","s":"T","v":0.49},{"d":"2010-11-15","s":"T","v":0.88},{"d":"2010-12-20","s":"T","v":1.22},
{"d":"2011-01-20","s":"T","v":1.0},{"d":"2011-02-15","s":"T","v":1.39},{"d":"2011-04-10","s":"T","v":0.94},{"d":"2011-05-25","s":"T","v":0.79},{"d":"2011-06-28","s":"T","v":0.71},{"d":"2011-08-01","s":"T","v":0.54},{"d":"2011-08-15","s":"T","v":0.2},{"d":"2011-08-25","s":"T","v":-0.14},{"d":"2011-09-20","s":"T","v":0.12},{"d":"2011-10-27","s":"T","v":0.26},{"d":"2011-12-05","s":"T","v":0.03},
{"d":"2012-01-20","s":"T","v":0.0},{"d":"2012-02-20","s":"T","v":-0.25},{"d":"2012-03-28","s":"T","v":-0.08},{"d":"2012-05-05","s":"T","v":-0.33},{"d":"2012-07-15","s":"T","v":-0.53},{"d":"2012-09-10","s":"T","v":-0.59},{"d":"2012-11-15","s":"T","v":-0.81},{"d":"2012-12-25","s":"T","v":-0.87},
{"d":"2013-02-20","s":"T","v":-0.59},{"d":"2013-03-25","s":"T","v":-0.53},{"d":"2013-05-03","s":"T","v":-0.7},{"d":"2013-06-03","s":"T","v":-0.19},{"d":"2013-06-20","s":"T","v":0.6},{"d":"2013-07-12","s":"T","v":0.63},{"d":"2013-08-05","s":"T","v":0.48},{"d":"2013-09-05","s":"T","v":0.94},{"d":"2013-09-25","s":"T","v":0.48},{"d":"2013-11-10","s":"T","v":0.6},{"d":"2013-12-20","s":"T","v":0.77},
{"d":"2014-02-10","s":"T","v":0.66},{"d":"2014-03-28","s":"T","v":0.6},{"d":"2014-05-15","s":"T","v":0.48},{"d":"2014-07-10","s":"T","v":0.31},{"d":"2014-08-28","s":"T","v":0.2},{"d":"2014-10-20","s":"T","v":0.26},{"d":"2014-11-20","s":"T","v":0.6},{"d":"2014-12-25","s":"T","v":0.57},
{"d":"2015-01-30","s":"T","v":0.03},{"d":"2015-03-10","s":"T","v":0.43},{"d":"2015-04-18","s":"T","v":0.03},{"d":"2015-06-01","s":"T","v":0.48},{"d":"2015-07-15","s":"T","v":0.37},{"d":"2015-09-01","s":"T","v":0.54},{"d":"2015-10-15","s":"T","v":0.66},{"d":"2015-11-28","s":"T","v":0.71},{"d":"2015-12-28","s":"T","v":0.82},
{"d":"2016-02-10","s":"T","v":0.6},{"d":"2016-03-25","s":"T","v":0.31},{"d":"2016-05-08","s":"T","v":0.14},{"d":"2016-07-08","s":"T","v":-0.03},{"d":"2016-08-20","s":"T","v":0.14},{"d":"2016-10-05","s":"T","v":0.03},{"d":"2016-11-05","s":"T","v":0.26},{"d":"2016-12-15","s":"T","v":0.66},
{"d":"2017-01-25","s":"T","v":0.48},{"d":"2017-03-12","s":"T","v":0.6},{"d":"2017-04-28","s":"T","v":0.37},{"d":"2017-06-15","s":"T","v":0.48},{"d":"2017-07-10","s":"T","v":0.6},{"d":"2017-09-05","s":"T","v":0.37},{"d":"2017-10-28","s":"T","v":0.51},{"d":"2017-12-20","s":"T","v":0.54},
{"d":"2018-02-10","s":"T","v":0.54},{"d":"2018-03-25","s":"T","v":0.79},{"d":"2018-05-20","s":"T","v":0.88},{"d":"2018-07-10","s":"T","v":0.88},{"d":"2018-08-25","s":"T","v":0.82},{"d":"2018-10-10","s":"T","v":1.0},{"d":"2018-11-10","s":"T","v":1.16},{"d":"2018-12-25","s":"T","v":1.0},
{"d":"2019-01-15","s":"T","v":0.99},{"d":"2019-02-20","s":"T","v":0.82},{"d":"2019-04-10","s":"T","v":0.65},{"d":"2019-05-28","s":"T","v":0.43},{"d":"2019-07-15","s":"T","v":0.2},{"d":"2019-08-28","s":"T","v":0.0},{"d":"2019-09-15","s":"T","v":0.2},{"d":"2019-10-28","s":"T","v":0.17},{"d":"2019-12-15","s":"T","v":0.14},
{"d":"2020-01-28","s":"T","v":-0.03},{"d":"2020-02-25","s":"T","v":-0.3},{"d":"2020-03-09","s":"T","v":-0.53},{"d":"2020-03-19","s":"T","v":0.6},{"d":"2020-04-01","s":"T","v":-0.42},{"d":"2020-05-10","s":"T","v":-0.36},{"d":"2020-06-25","s":"T","v":-0.42},{"d":"2020-08-05","s":"T","v":-0.98},{"d":"2020-09-20","s":"T","v":-0.93},{"d":"2020-11-05","s":"T","v":-0.81},{"d":"2020-12-20","s":"T","v":-0.98},
{"d":"2021-02-05","s":"T","v":-0.93},{"d":"2021-03-25","s":"T","v":-0.59},{"d":"2021-05-10","s":"T","v":-0.76},{"d":"2021-06-25","s":"T","v":-0.81},{"d":"2021-08-05","s":"T","v":-1.09},{"d":"2021-09-20","s":"T","v":-0.93},{"d":"2021-11-10","s":"T","v":-1.15},{"d":"2021-12-25","s":"T","v":-0.98},
{"d":"2022-01-25","s":"T","v":-0.42},{"d":"2022-02-20","s":"T","v":-0.64},{"d":"2022-03-07","s":"T","v":-1.09},{"d":"2022-03-22","s":"T","v":-0.42},{"d":"2022-04-10","s":"T","v":0.03},{"d":"2022-04-28","s":"T","v":0.37},{"d":"2022-05-20","s":"T","v":0.71},{"d":"2022-06-05","s":"T","v":0.6},{"d":"2022-06-14","s":"T","v":0.85},{"d":"2022-08-01","s":"T","v":0.15},{"d":"2022-08-25","s":"T","v":0.7},{"d":"2022-09-20","s":"T","v":1.16},{"d":"2022-09-30","s":"T","v":1.67},{"d":"2022-10-21","s":"T","v":1.75},{"d":"2022-11-30","s":"T","v":1.15},{"d":"2022-12-28","s":"T","v":1.61},
{"d":"2023-02-05","s":"T","v":1.22},{"d":"2023-03-08","s":"T","v":1.67},{"d":"2023-04-15","s":"T","v":1.1},{"d":"2023-05-30","s":"T","v":1.55},{"d":"2023-07-15","s":"T","v":1.67},{"d":"2023-08-21","s":"T","v":1.95},{"d":"2023-10-19","s":"T","v":2.5},{"d":"2023-11-25","s":"T","v":2.16},{"d":"2023-12-27","s":"T","v":1.67},
{"d":"2024-02-20","s":"T","v":1.95},{"d":"2024-03-18","s":"T","v":1.84},{"d":"2024-04-25","s":"T","v":2.25},{"d":"2024-06-15","s":"T","v":2.1},{"d":"2024-08-05","s":"T","v":1.95},{"d":"2024-09-16","s":"T","v":1.55},{"d":"2024-10-25","s":"T","v":1.95},{"d":"2024-11-21","s":"T","v":2.07}
]},
"layer":[
{"data":{"name":"rec"},
 "mark":{"type":"rect","color":"#d9d9d9"},
 "encoding":{
  "x":{"field":"start","type":"temporal","scale":{"domain":[{"year":1998,"month":1,"date":1},{"year":2025,"month":1,"date":12}],"nice":false},
   "axis":{"title":null,"tickCount":{"interval":"year","step":2},"format":"%Y","grid":true,"gridColor":"#c8c8c8","gridDash":[2,2],"gridWidth":1.4,"domain":false,"ticks":true,"tickSize":7,"tickColor":"black","labelFontSize":16,"labelFontWeight":"bold","labelColor":"black","labelFont":"Liberation Sans","labelPadding":3,"labelFlush":false,"labelOverlap":false,"zindex":0}},
  "x2":{"field":"end"}}},
{"data":{"values":[{}]},
 "mark":{"type":"rect","color":"#2f7e71"},
 "encoding":{
  "x":{"datum":{"year":1998,"month":1,"date":23},"type":"temporal","scale":{"domain":[{"year":1998,"month":1,"date":1},{"year":2025,"month":1,"date":12}],"nice":false},
   "axis":{"title":null,"tickCount":{"interval":"month","step":3},"labels":false,"grid":false,"domain":true,"domainColor":"black","domainWidth":1,"tickSize":4,"tickColor":"black","zindex":1}},
  "x2":{"datum":{"year":2009,"month":4,"date":1}},
  "y":{"datum":9.95,"type":"quantitative","scale":{"domain":[-2,10],"nice":false,"zero":false},
   "axis":{"title":null,"orient":"left","tickCount":12,"grid":true,"gridColor":"#c8c8c8","gridDash":[2,2],"gridWidth":1.4,"domain":false,"tickSize":7,"tickColor":"black","labelFontSize":16,"labelFontWeight":"bold","labelColor":"black","labelFont":"Liberation Sans","labelPadding":6,"labelFlush":false,"zindex":0}},
  "y2":{"datum":8.82}}},
{"data":{"values":[{}]},
 "mark":{"type":"text","text":["10-YEAR US TREASURY BOND & TIPS YIELDS","(percent, daily)"],"lineHeight":31,"fontSize":23,"fontWeight":"bold","color":"white","align":"center","baseline":"middle","font":"Liberation Sans"},
 "encoding":{
  "x":{"datum":{"year":2003,"month":8,"date":27},"type":"temporal","scale":{"domain":[{"year":1998,"month":1,"date":1},{"year":2025,"month":1,"date":12}],"nice":false},"axis":null},
  "y":{"datum":9.645,"type":"quantitative","scale":{"domain":[-2,10],"nice":false,"zero":false},
   "axis":{"title":null,"orient":"left","tickCount":60,"labels":false,"grid":false,"domain":true,"domainColor":"black","domainWidth":1,"tickSize":4,"tickColor":"black","zindex":1}}}},
{"data":{"values":[{}]},
 "mark":{"type":"rule","color":"black","strokeWidth":1},
 "encoding":{
  "y":{"datum":0,"type":"quantitative","scale":{"domain":[-2,10],"nice":false,"zero":false},
   "axis":{"title":null,"orient":"right","tickCount":12,"grid":false,"domain":true,"domainColor":"black","domainWidth":1,"tickSize":7,"tickColor":"black","labelFontSize":16,"labelFontWeight":"bold","labelColor":"black","labelFont":"Liberation Sans","labelPadding":6,"labelFlush":false,"zindex":1}}}},
{"data":{"name":"yld"},
 "mark":{"type":"line","interpolate":"linear"},
 "encoding":{
  "x":{"field":"d","type":"temporal","scale":{"domain":[{"year":1998,"month":1,"date":1},{"year":2025,"month":1,"date":12}],"nice":false},"axis":null},
  "y":{"field":"v","type":"quantitative","scale":{"domain":[-2,10],"nice":false,"zero":false},
   "axis":{"title":null,"orient":"right","tickCount":60,"labels":false,"grid":false,"domain":false,"tickSize":4,"tickColor":"black","zindex":1}},
  "strokeWidth":{"value":1.6},
  "color":{"field":"s","type":"nominal","scale":{"domain":["B","T","R"],"range":["#0000ff","#ff0000","#d9d9d9"]},
   "legend":{"title":".","titleOrient":"right","titleColor":"white","titleFontSize":10,"titlePadding":31,
    "orient":"none","legendX":4,"legendY":74,"direction":"vertical",
    "symbolType":{"expr":"datum.value == 'R' ? 'M-2.222,-0.722H2.222V0.722H-2.222Z' : 'M-2.222,0H2.222'"},
    "symbolSize":324,"symbolStrokeWidth":1.5,
    "symbolFillColor":{"expr":"datum.value == 'R' ? '#d9d9d9' : 'transparent'"},
    "symbolOffset":14,
    "labelExpr":"datum.value == 'B' ? 'Bond Yield (Nov 22 = 4.41)' : datum.value == 'T' ? 'TIPS Yield (Nov 21 = 2.07)' : 'Recession'",
    "labelFont":"Liberation Sans","labelFontSize":17.5,"labelFontWeight":"bold","labelColor":"black","labelOffset":18,"labelLimit":500,
    "strokeColor":"black","fillColor":"white","padding":3,"rowPadding":1,
    "encode":{"legend":{"update":{"strokeWidth":{"value":2}}}}}}}}
]
}
